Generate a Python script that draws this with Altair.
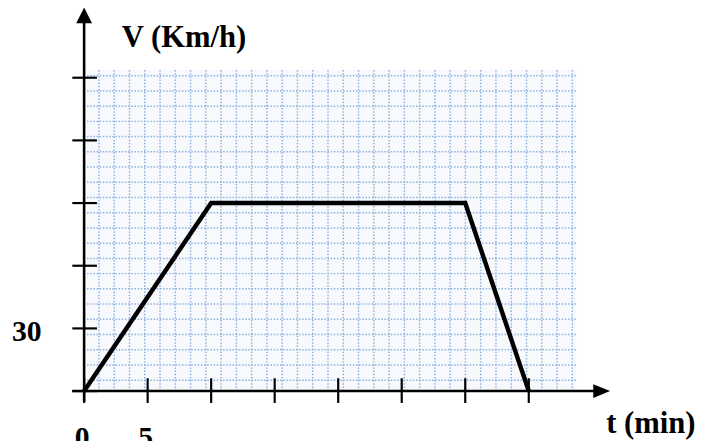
import altair as alt
import pandas as pd
import numpy as np

# ---- chart values ----
time_min = [0, 10, 30, 35]
speed_kmh = [0, 90, 90, 0]
x_tick_values = [0, 5, 10, 15, 20, 25, 30, 35]
y_tick_values = [0, 30, 60, 90, 120, 150]
x_label_text = ["0", "5"]
x_label_at = [0, 5]
y_label_text = ["30"]
y_label_at = [30]
y_title = "V (Km/h)"
x_title = "t (min)"

# ---- layout (data units) ----
W, H = 707, 433
X_DOMAIN = [-5.992, 49.03]
Y_DOMAIN = [-22.72, 182.2]
FONT = "Liberation Serif"

xs = alt.Scale(domain=X_DOMAIN, nice=False, zero=False)
ys = alt.Scale(domain=Y_DOMAIN, nice=False, zero=False)


def X(f="t"):
    return alt.X(f, type="quantitative", scale=xs, axis=None)


def Y(f="v"):
    return alt.Y(f, type="quantitative", scale=ys, axis=None)


# graph-paper background
grid_t0, grid_t1, grid_v0, grid_v1 = 0.23, 38.75, 0.0, 153.8
rect_df = pd.DataFrame({"t": [grid_t0], "t2": [grid_t1], "v": [grid_v0], "v2": [grid_v1]})
paper = alt.Chart(rect_df).mark_rect(color="#f7f9fd").encode(
    x=X(), x2="t2", y=Y(), y2="v2"
)

vt = 1.167 + 1.202 * np.arange(32)
vgrid_df = pd.DataFrame({"t": vt, "t2": vt, "v": grid_v0, "v2": grid_v1})
ht = 5.21 + 7.288 * np.arange(21)
hgrid_df = pd.DataFrame({"t": grid_t0, "t2": grid_t1, "v": ht, "v2": ht})
grid_df = pd.concat([vgrid_df, hgrid_df], ignore_index=True)
grid = alt.Chart(grid_df).mark_rule(
    color="#8db0df", strokeWidth=1.5, strokeDash=[1.5, 1.7]
).encode(x=X(), x2="t2", y=Y(), y2="v2")

# axes lines
axes_df = pd.DataFrame({
    "t": [0, -0.93], "t2": [0, 40.5],
    "v": [-5.2, 0], "v2": [176.5, 0],
})
axes = alt.Chart(axes_df).mark_rule(color="black", strokeWidth=2.6).encode(
    x=X(), x2="t2", y=Y(), y2="v2"
)

# ticks
xt_df = pd.DataFrame({"t": x_tick_values, "t2": x_tick_values, "v": -5.68, "v2": 6.15})
yt_df = pd.DataFrame({"t": -0.93, "t2": 1.01, "v": y_tick_values, "v2": y_tick_values})
ticks = alt.Chart(pd.concat([xt_df, yt_df], ignore_index=True)).mark_rule(
    color="black", strokeWidth=2.2
).encode(x=X(), x2="t2", y=Y(), y2="v2")

# arrow heads
up_df = pd.DataFrame({"t": [0], "v": [179.8]})
up = alt.Chart(up_df).mark_point(
    shape="M0,-1L1,1L-1,1Z", filled=True, size=256, color="black", opacity=1, strokeWidth=0
).encode(x=X(), y=Y())
right_df = pd.DataFrame({"t": [40.74], "v": [0]})
right = alt.Chart(right_df).mark_point(
    shape="M1,0L-1,-0.82L-1,0.82Z", filled=True, size=289, color="black", opacity=1, strokeWidth=0
).encode(x=X(), y=Y())

# speed curve
line_df = pd.DataFrame({"t": time_min, "v": speed_kmh})
line = alt.Chart(line_df).mark_line(
    color="black", strokeWidth=4.5, strokeJoin="miter", strokeCap="butt"
).encode(x=X(), y=Y(), order=alt.Order("idx:Q")).transform_calculate(idx="datum.t")

# texts
ytitle = alt.Chart(pd.DataFrame({"t": [2.96], "v": [164.7], "s": [y_title]})).mark_text(
    align="left", baseline="alphabetic", font=FONT, fontWeight="bold", fontSize=31, color="black"
).encode(x=X(), y=Y(), text="s:N")
xtitle = alt.Chart(pd.DataFrame({"t": [41.09], "v": [-19.9], "s": [x_title]})).mark_text(
    align="left", baseline="alphabetic", font=FONT, fontWeight="bold", fontSize=31, color="black"
).encode(x=X(), y=Y(), text="s:N")
ylab = alt.Chart(pd.DataFrame({"t": -3.35, "v": [a - 5.9 for a in y_label_at], "s": y_label_text})).mark_text(
    align="right", baseline="alphabetic", font=FONT, fontWeight="bold", fontSize=30, color="black"
).encode(x=X(), y=Y(), text="s:N")
xlab = alt.Chart(pd.DataFrame({"t": [a - 0.15 for a in x_label_at], "v": -27.0, "s": x_label_text})).mark_text(
    align="center", baseline="alphabetic", font=FONT, fontWeight="bold", fontSize=30, color="black"
).encode(x=X(), y=Y(), text="s:N")

chart = alt.layer(
    paper, grid, axes, ticks, up, right, line, ytitle, xtitle, ylab, xlab
).properties(
    width=W, height=H, padding=0, autosize=alt.AutoSizeParams(type="none"),
    background="white",
).configure_view(stroke=None)

chart.save("out.html", embed_options={"renderer": "svg", "actions": False})
